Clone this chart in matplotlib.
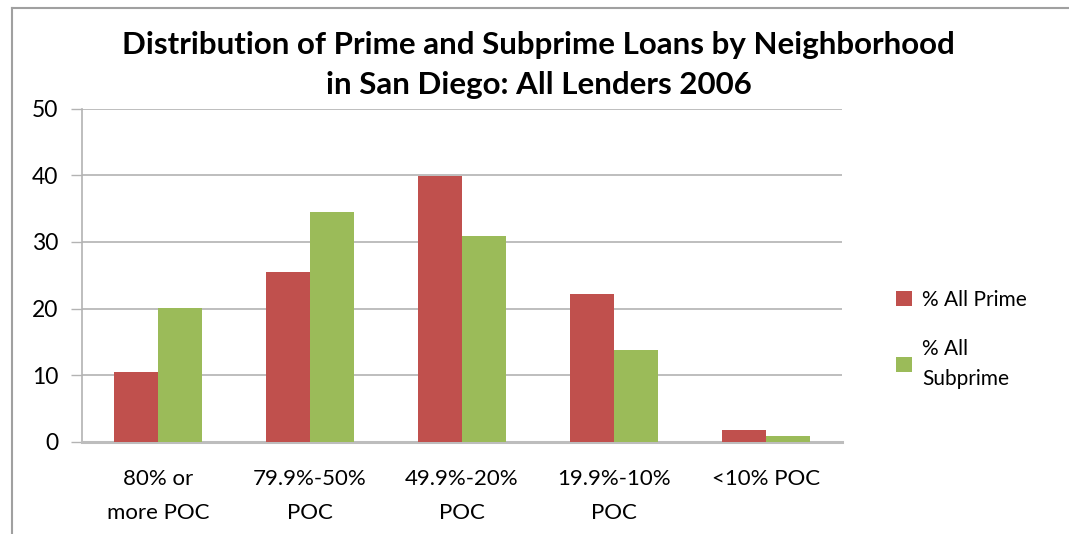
import matplotlib

matplotlib.use("Agg")
import matplotlib.pyplot as plt
import numpy as np
from matplotlib.lines import Line2D
from matplotlib.patches import Patch

plt.rcParams["font.family"] = ["Lato", "DejaVu Sans"]

CATEGORIES = ["80% or\nmore POC", "79.9%-50%\nPOC", "49.9%-20%\nPOC", "19.9%-10%\nPOC", "<10% POC"]
PRIME = [10.5, 25.5, 39.9, 22.2, 1.8]
SUBPRIME = [20.1, 34.5, 30.9, 13.8, 0.9]
SERIES_LABELS = ["% All Prime", "% All\nSubprime"]
Y_TICKS = [0, 10, 20, 30, 40, 50]

RED = "#C0504D"
GREEN = "#9BBB59"
GRID = "#b3b3b3"

fig = plt.figure(figsize=(10.69, 5.34), dpi=100)
ax = fig.add_axes([0.0767, 0.1732, 0.7110, 0.6227])

x = np.arange(len(CATEGORIES))
w = 0.287
ax.bar(x - w / 2, PRIME, width=w, color=RED, zorder=3)
ax.bar(x + w / 2, SUBPRIME, width=w, color=GREEN, zorder=3)

ax.set_xlim(-0.5, len(CATEGORIES) - 0.5)
ax.set_ylim(0, 50)
ax.set_yticks(Y_TICKS)
ax.set_yticklabels([str(t) for t in Y_TICKS], fontsize=16.5)
ax.set_xticks(x)
ax.set_xticklabels(CATEGORIES, fontsize=16, linespacing=1.85)
ax.tick_params(axis="x", length=0, pad=20)
ax.tick_params(axis="y", length=8, width=1, color=GRID, pad=9)
ax.yaxis.grid(True, color=GRID, linewidth=1.2, zorder=0)

for side in ["top", "right"]:
    ax.spines[side].set_visible(False)
ax.spines["left"].set_color(GRID)
ax.spines["left"].set_linewidth(1.2)
ax.spines["bottom"].set_color("#bdbdbd")
ax.spines["bottom"].set_linewidth(2.2)

fig.text(0.504, 1 - 65 / 534, "Distribution of Prime and Subprime Loans by Neighborhood\nin San Diego: All Lenders 2006",
         ha="center", va="center", fontsize=22.5, fontweight="bold", linespacing=1.5)

handles = [Patch(facecolor=RED), Patch(facecolor=GREEN)]
leg = fig.legend(handles, SERIES_LABELS, loc="upper left", bbox_to_anchor=(0.821, 1 - 271 / 534), frameon=False,
                 fontsize=15, handlelength=0.75, handleheight=0.75, handletextpad=0.5, labelspacing=1.4)
for t in leg.get_texts():
    t.set_linespacing(1.6)

# outer chart frame (cropped on right and bottom)
fig.add_artist(Line2D([12 / 1069, 1], [1 - 8 / 534, 1 - 8 / 534], color="#a0a0a0", linewidth=1.5,
                      transform=fig.transFigure))
fig.add_artist(Line2D([12 / 1069, 12 / 1069], [0, 1 - 8 / 534], color="#a0a0a0", linewidth=1.5,
                      transform=fig.transFigure))

fig.savefig("out.png", dpi=100)
plt.close(fig)
